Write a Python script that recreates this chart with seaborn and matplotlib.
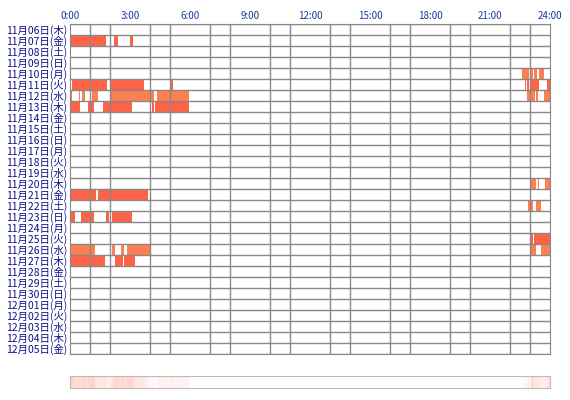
import numpy as np
import matplotlib
matplotlib.use("Agg")
import matplotlib.pyplot as plt
import seaborn as sns
from matplotlib.colors import LinearSegmentedColormap
import datetime as dt

sns.set_style("white")
plt.rcParams['font.family'] = ['Noto Sans CJK JP', 'DejaVu Sans']

# dates
start = dt.date(2025, 11, 6)
dates = [start + dt.timedelta(days=i) for i in range(30)]
wd = ['月', '火', '水', '木', '金', '土', '日']
date_labels = [f"{d.month}月{d.day:02d}日({wd[d.weekday()]})" for d in dates]

# segments (start hour, end hour, style) per date label index
T, C = 'tomato', 'coral'
seg_1107 = [(0, 1.8, T), (2.22, 2.42, T), (3.0, 3.13, T)]
seg_1110 = [(22.6, 22.93, C), (23.05, 23.13, C), (23.18, 23.37, C), (23.45, 23.68, C)]
seg_1111 = [(0, 0.05, T), (0.1, 1.85, T), (2.0, 3.7, T), (5.02, 5.15, T),
            (22.75, 22.78, T), (22.85, 22.97, T), (23.03, 23.43, T), (23.85, 24, T)]
seg_1112 = [(0, 0.1, C), (0.43, 0.5, C), (0.6, 0.75, C), (1.08, 1.42, C), (2.0, 4.18, C), (4.35, 5.97, C),
            (22.85, 22.98, C), (23.05, 23.23, C), (23.3, 23.38, C), (23.7, 24, C)]
seg_1113 = [(0, 0.5, T), (0.9, 1.2, T), (1.67, 3.1, T), (4.1, 4.18, T), (4.25, 5.97, T)]
seg_1120 = [(23.05, 23.28, C), (23.38, 23.47, C), (23.75, 24, C)]
seg_1121 = [(0, 1.3, T), (1.42, 3.9, T)]
seg_1122 = [(22.9, 22.98, C), (23.05, 23.17, C), (23.3, 23.55, C)]
seg_1123 = [(0.07, 0.27, T), (0.57, 1.2, T), (1.82, 1.95, T), (2.12, 3.1, T)]
seg_1125 = [(23.03, 23.13, T), (23.18, 24, T)]
seg_1126 = [(0, 1.27, C), (2.12, 2.25, C), (2.57, 2.7, C), (2.85, 4.02, C), (23.05, 23.28, C), (23.53, 24, C)]
seg_1127 = [(0, 1.75, T), (2.27, 2.65, T), (2.72, 3.25, T)]

segments = {1: seg_1107, 4: seg_1110, 5: seg_1111, 6: seg_1112, 7: seg_1113, 14: seg_1120,
            15: seg_1121, 16: seg_1122, 17: seg_1123, 19: seg_1125, 20: seg_1126, 21: seg_1127}

colors = {'tomato': '#ff6347', 'coral': '#ff7f50'}

fig = plt.figure(figsize=(5.7, 4.0), dpi=100)
ax = fig.add_axes([70/570, 1-354/400, 480/570, 330/400])
for row, segs in segments.items():
    for s, e, c in segs:
        ax.barh(row, e - s, left=s, height=1.0, color=colors[c], linewidth=0)

ax.set_xlim(0, 24)
ax.set_ylim(29.5, -0.5)
ax.set_xticks(range(0, 25, 1), minor=True)
ax.set_xticks(range(0, 25, 3))
ax.set_xticklabels([f"{h}:00" for h in range(0, 25, 3)], color='#1a3a9a', fontsize=7)
ax.xaxis.tick_top()
ax.set_yticks(np.arange(30))
ax.set_yticklabels(date_labels, color='#10108a', fontsize=7.5)
ax.set_yticks(np.arange(-0.5, 30, 1), minor=True)
ax.tick_params(which='both', length=0, pad=2)
ax.grid(which='minor', color='#888888', linewidth=1)
ax.grid(which='major', visible=False)
ax.set_axisbelow(False)
for sp in ax.spines.values():
    sp.set_color('#888888')

# density strip
minutes = np.zeros(24*60)
for segs in segments.values():
    for s, e, c in segs:
        minutes[int(round(s*60)):int(round(e*60))] += 1
dens = minutes / 30.0
ax2 = fig.add_axes([70/570, 1-388/400, 480/570, 12/400])
cmap = LinearSegmentedColormap.from_list('d', ['#ffffff', '#ff6347'])
ax2.imshow(dens[None, :], aspect='auto', cmap=cmap, vmin=0, vmax=0.9, extent=[0, 24, 0, 1])
ax2.set_xticks([]); ax2.set_yticks([])
for sp in ax2.spines.values():
    sp.set_color('#bbbbbb')

fig.savefig("out.png", dpi=100)
